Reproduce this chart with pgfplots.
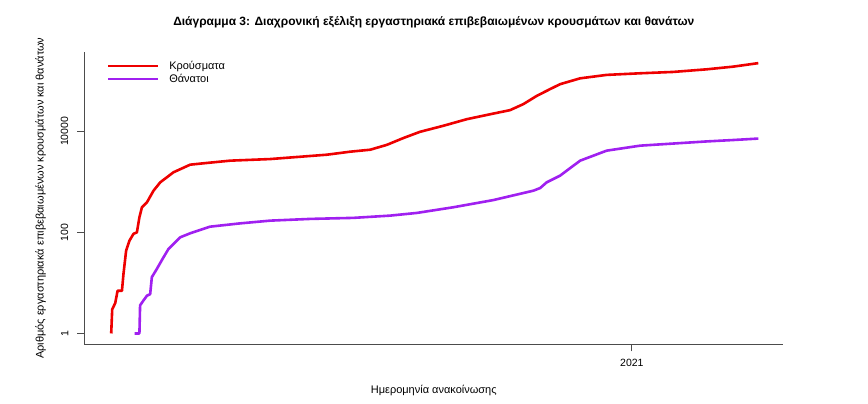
\documentclass[border=0pt]{standalone}
\usepackage{fontspec}
\setmainfont{Liberation Sans}
\usepackage{pgfplots}
\usepackage{pgfplotstable}
\pgfplotsset{compat=1.18}
\definecolor{casered}{RGB}{238,0,0}
\definecolor{deathpurple}{RGB}{160,32,240}

% day 0 = first case; day 310 = 1 Jan 2021
\pgfplotstableread{
day value
0 1
0.6 3
2.4 4
3.8 7
6.4 7
7.3 15
8.9 44
10.9 69
13.3 94
15.3 100
16.8 200
18.3 315
21.3 395
25.2 670
29.2 980
37.1 1550
47 2190
54.8 2330
70.8 2630
94.6 2830
108.5 3070
128.4 3450
142.3 3960
154.2 4330
164.1 5400
174 7380
183.9 9800
197.8 12900
211.7 17400
227.6 22500
237.5 26300
245.4 34600
253.4 50400
261.3 68500
267.3 85900
279.2 112000
295 131000
314.9 141000
334.7 150000
354.6 169000
370.4 191000
385.3 224000
}\cases

\pgfplotstableread{
day value
14 1
16.8 1
17.2 3.6
19.2 4.5
21.3 5.6
23.2 6
24.2 13
27.2 19
31.1 32
34.1 47
37.1 59
41.1 80
47 96
58.9 130
76.8 151
94.6 171
118.5 185
144.2 194
166.1 215
182 243
203.8 315
227.6 437
251.4 670
255.4 755
259.3 980
267.3 1330
279.2 2630
295 4150
314.9 5210
334.7 5740
354.6 6320
370.4 6740
385.3 7200
}\deaths

\begin{document}
\begin{tikzpicture}
\useasboundingbox (0,0) rectangle (868bp,404bp);
\begin{axis}[
  name=ax,
  at={(84.5bp,59.5bp)}, anchor=south west,
  scale only axis, width=698.5bp, height=292.5bp,
  ymode=log,
  xmin=-15.9, xmax=400, ymin=0.605, ymax=372000,
  axis x line*=bottom, axis y line*=left,
  axis line style={-, black!70, line width=1.1bp},
  tick align=outside, major tick length=7bp,
  tick style={black!70, line width=1.1bp},
  xtick={310}, xticklabels={2021},
  ytick={1,100,10000}, yticklabels={1,100,10000},
  yminorticks=false, xminorticks=false,
  ticklabel style={font=\fontsize{10.5bp}{12bp}\selectfont},
  yticklabel style={rotate=90, anchor=south, inner sep=0pt, yshift=9bp},
  xticklabel style={anchor=north, inner sep=0pt, yshift=-7bp},
  title={Διάγραμμα 3: Διαχρονική εξέλιξη εργαστηριακά επιβεβαιωμένων κρουσμάτων και θανάτων},
  title style={at={(0.5,1)}, anchor=center, yshift=24bp, inner sep=0pt,
    font=\bfseries\fontsize{12bp}{14bp}\selectfont},
  xlabel={Ημερομηνία ανακοίνωσης},
  xlabel style={at={(0.5,0)}, anchor=center, yshift=-46bp, inner sep=0pt,
    font=\fontsize{11bp}{13bp}\selectfont},
  ylabel={Αριθμός εργαστηριακά επιβεβαιωμένων κρουσμάτων και θανάτων},
  ylabel style={at={(0,0.5)}, anchor=center, yshift=44bp, inner sep=0pt,
    font=\fontsize{11bp}{13bp}\selectfont},
  legend image code/.code={\draw[#1, line width=2.2bp] (0bp,0bp) -- (50bp,0bp);},
  legend cell align=left,
  legend style={draw=none, fill=none, at={(0.032,0.968)}, anchor=north west,
    inner sep=0pt, row sep=3.5bp,
    nodes={inner sep=0pt, text height=7.5bp, text depth=2bp,
      font=\fontsize{11bp}{13bp}\selectfont},
    /tikz/every odd column/.append style={column sep=10bp}},
]
\addplot[casered, line width=2.6bp, line join=round, sharp plot] table[x=day, y=value] {\cases};
\addlegendentry{Κρούσματα}
\addplot[deathpurple, line width=2.6bp, line join=round, sharp plot] table[x=day, y=value] {\deaths};
\addlegendentry{Θάνατοι}
\end{axis}
\draw[black!70, line width=1.1bp] (ax.south west) -- (ax.north west);
\end{tikzpicture}
\end{document}
